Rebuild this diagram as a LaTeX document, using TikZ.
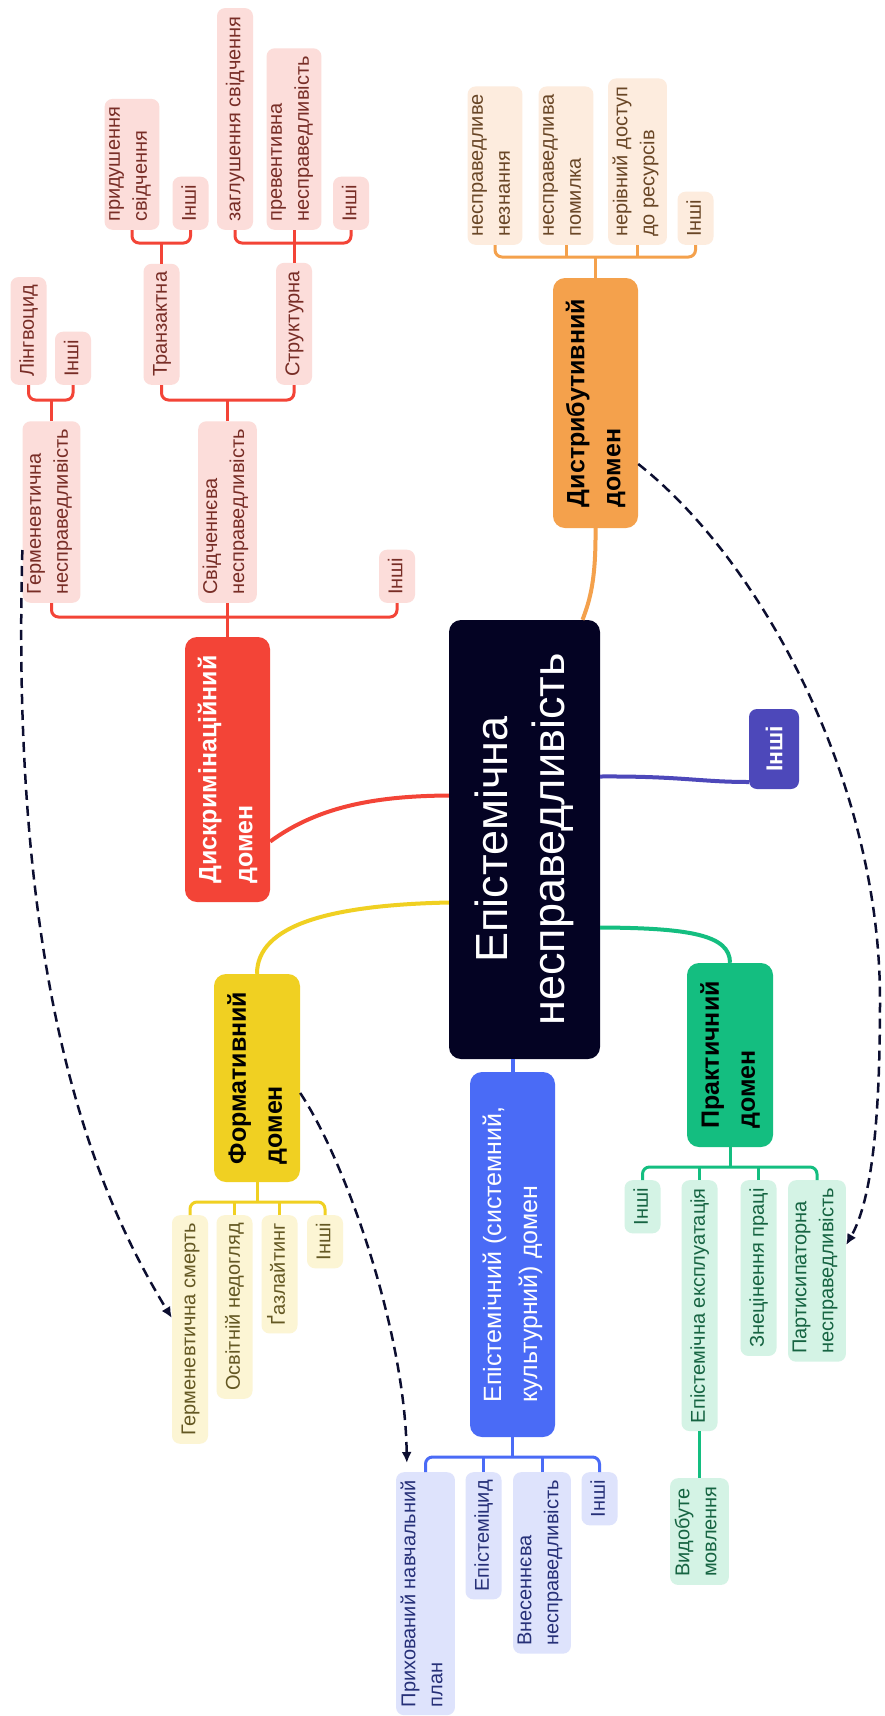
\documentclass[tikz,border=0pt]{standalone}
\usepackage{fontspec}
\setmainfont{Liberation Sans}
\usetikzlibrary{arrows.meta}

\definecolor{centrebg}{RGB}{4,3,35}
\definecolor{redmain}{RGB}{243,68,55}
\definecolor{redleaf}{RGB}{252,221,218}
\definecolor{redtext}{RGB}{120,45,38}
\definecolor{orangemain}{RGB}{244,161,76}
\definecolor{orangeleaf}{RGB}{253,236,222}
\definecolor{orangetext}{RGB}{105,70,38}
\definecolor{yellowmain}{RGB}{240,208,34}
\definecolor{yellowleaf}{RGB}{252,245,212}
\definecolor{yellowtext}{RGB}{100,88,35}
\definecolor{bluemain}{RGB}{74,107,246}
\definecolor{blueleaf}{RGB}{222,227,252}
\definecolor{bluetext}{RGB}{38,48,120}
\definecolor{greenmain}{RGB}{20,190,128}
\definecolor{greenleaf}{RGB}{212,243,229}
\definecolor{greentext}{RGB}{22,100,66}
\definecolor{purplemain}{RGB}{77,72,186}
\definecolor{dashcol}{RGB}{12,14,48}

\tikzset{
  leafbox/.style={rotate=90, rounded corners=8pt, inner xsep=8pt, inner ysep=4.5pt, align=left,
    font=\fontsize{20}{27}\selectfont, execute at begin node=\strut, execute at end node=\strut},
  domainbox/.style={rotate=90, rounded corners=12pt, inner sep=0pt, align=left,
    font=\fontsize{25}{36}\selectfont\bfseries},
}

\newcommand{\drawcentre}{\node[rotate=90, fill=centrebg, text=white, rounded corners=12pt, align=center, font=\fontsize{45}{57}\selectfont, minimum width=439pt, minimum height=151pt]}
\newcommand{\drawdomain}{\node[domainbox]}
\newcommand{\drawleafred}{\node[leafbox, fill=redleaf, text=redtext]}
\newcommand{\drawleaforange}{\node[leafbox, fill=orangeleaf, text=orangetext]}
\newcommand{\drawleafyellow}{\node[leafbox, fill=yellowleaf, text=yellowtext]}
\newcommand{\drawleafblue}{\node[leafbox, fill=blueleaf, text=bluetext]}
\newcommand{\drawleafgreen}{\node[leafbox, fill=greenleaf, text=greentext]}
\newcommand{\drawdummy}{\coordinate}
\newcommand{\linered}{\draw[line width=3pt, redmain, rounded corners=7pt]}
\newcommand{\lineorange}{\draw[line width=3pt, orangemain, rounded corners=7pt]}
\newcommand{\lineyellow}{\draw[line width=3pt, yellowmain, rounded corners=7pt]}
\newcommand{\lineblue}{\draw[line width=3pt, bluemain, rounded corners=7pt]}
\newcommand{\linegreen}{\draw[line width=3pt, greenmain, rounded corners=7pt]}
\newcommand{\curvecol}{\draw[line width=4pt]}
\newcommand{\arrdash}{\draw[line width=2.5pt, dashcol, dash pattern=on 10pt off 6pt, -{Latex[length=11pt,width=10pt]}]}

\begin{document}
\begin{tikzpicture}[x=1pt, y=-1pt]
\fill[white] (0,0) rectangle (884,1716);
\useasboundingbox (0,0) rectangle (884,1716);

%centre and domains
\drawcentre (centre) at (524.5,839.5) {Епістемічна\\несправедливість};
\drawdomain (disc) at (227.5,769.5) [fill=redmain, text=white, minimum width=265pt, minimum height=85pt] {Дискримінаційний\\домен};
\drawdomain (dist) at (595.5,403) [fill=orangemain, text=black, minimum width=250pt, minimum height=85pt] {Дистрибутивний\\домен};
\drawdomain (form) at (257,1078) [fill=yellowmain, text=black, minimum width=208pt, minimum height=86pt] {Формативний\\домен};
\drawdomain (episd) at (512.5,1254.5) [fill=bluemain, text=white, font=\fontsize{25}{36}\selectfont, minimum width=365pt, minimum height=85pt] {Епістемічний (системний,\\культурний) домен};
\drawdomain (prac) at (730,1055) [fill=greenmain, text=black, minimum width=184pt, minimum height=86pt] {Практичний\\домен};
\drawdomain (other) at (774,749) [fill=purplemain, text=white, font=\fontsize{23}{30}\selectfont\bfseries, rounded corners=8pt, minimum width=80pt, minimum height=50pt] {Інші};

%discrimination branch
\drawleafred (herm) at (51.5,603) [anchor=west] {Герменевтична\\несправедливість};
\drawleafred (svid) at (227.5,603) [anchor=west] {Свідченнєва\\несправедливість};
\drawleafred (othd) at (397,603) [anchor=west] {Інші};
\drawleafred (ling) at (28.5,385) [anchor=west] {Лінгвоцид};
\drawleafred (othh) at (73,385) [anchor=west] {Інші};
\drawleafred (trans) at (161.5,385) [anchor=west] {Транзактна};
\drawleafred (struc) at (294,385) [anchor=west] {Структурна};
\drawleafred (prid) at (132,230) [anchor=west] {придушення\\свідчення};
\drawleafred (otht) at (190.5,230) [anchor=west] {Інші};
\drawleafred (zagl) at (235,230) [anchor=west] {заглушення свідчення};
\drawleafred (prev) at (294,230) [anchor=west] {превентивна\\несправедливість};
\drawleafred (oths) at (351,230) [anchor=west] {Інші};

\drawdummy (discJ) at (227.5,617);
\drawdummy (hermJ) at (51.5,400);
\drawdummy (svidJ) at (227.5,400);
\drawdummy (transJ) at (161.5,243);
\drawdummy (strucJ) at (294,243);
\linered (herm.west) |- (discJ) -| (othd.west);
\linered (disc.east) -- (svid.west);
\linered (ling.west) |- (hermJ) -| (othh.west);
\linered (herm.east) -- (hermJ);
\linered (trans.west) |- (svidJ) -| (struc.west);
\linered (svid.east) -- (svidJ);
\linered (prid.west) |- (transJ) -| (otht.west);
\linered (trans.east) -- (transJ);
\linered (zagl.west) |- (strucJ) -| (oths.west);
\linered (struc.east) -- (prev.west);

%distributive branch
\drawleaforange (nezn) at (495,245) [anchor=west] {несправедливе\\незнання};
\drawleaforange (pomy) at (566,245) [anchor=west] {несправедлива\\помилка};
\drawleaforange (nerivn) at (637.5,245) [anchor=west] {нерівний доступ\\до ресурсів};
\drawleaforange (othdist) at (695.5,245) [anchor=west] {Інші};
\drawdummy (distJ) at (595.5,257);
\lineorange (nezn.west) |- (distJ) -| (othdist.west);
\lineorange (dist.east) -- (distJ);
\lineorange (pomy.west) -- (pomy.west |- distJ);
\lineorange (nerivn.west) -- (nerivn.west |- distJ);

%formative branch
\drawleafyellow (hsm) at (190,1215) [anchor=east] {Герменевтична смерть};
\drawleafyellow (osv) at (234.5,1215) [anchor=east] {Освітній недогляд};
\drawleafyellow (gaz) at (279.5,1215) [anchor=east] {Ґазлайтинг};
\drawleafyellow (othf) at (325,1215) [anchor=east] {Інші};
\drawdummy (formJ) at (257,1202);
\lineyellow (hsm.east) |- (formJ) -| (othf.east);
\lineyellow (form.west) -- (formJ);
\lineyellow (osv.east) -- (osv.east |- formJ);
\lineyellow (gaz.east) -- (gaz.east |- formJ);

%epistemic branch
\drawleafblue (prykh) at (425.5,1472) [anchor=east] {Прихований навчальний\\план};
\drawleafblue (epid) at (483.5,1472) [anchor=east] {Епістеміцид};
\drawleafblue (vnes) at (542,1472) [anchor=east] {Внесеннєва\\несправедливість};
\drawleafblue (othe) at (599.5,1472) [anchor=east] {Інші};
\drawdummy (episJ) at (512.5,1457);
\lineblue (prykh.east) |- (episJ) -| (othe.east);
\lineblue (episd.west) -- (episJ);
\lineblue (epid.east) -- (epid.east |- episJ);
\lineblue (vnes.east) -- (vnes.east |- episJ);

%practical branch
\drawleafgreen (othp) at (642.5,1180) [anchor=east] {Інші};
\drawleafgreen (ekspl) at (699.5,1180) [anchor=east] {Епістемічна експлуатація};
\drawleafgreen (znets) at (758.5,1180) [anchor=east] {Знецінення праці};
\drawleafgreen (part) at (817,1180) [anchor=east] {Партисипаторна\\несправедливість};
\drawleafgreen (vyd) at (699.5,1478) [anchor=east] {Видобуте\\мовлення};
\drawdummy (pracJ) at (730,1167);
\linegreen (othp.east) |- (pracJ) -| (part.east);
\linegreen (prac.west) -- (pracJ);
\linegreen (ekspl.east) -- (ekspl.east |- pracJ);
\linegreen (znets.east) -- (znets.east |- pracJ);
\linegreen (ekspl.west) -- (vyd.east);

%centre to domains
\curvecol[redmain] ([yshift=-72pt]disc.south) .. controls (320,805) and (380,796) .. ([yshift=44pt]centre.north);
\curvecol[yellowmain] ([yshift=-63pt]centre.north) .. controls (330,905) and (257,925) .. (form.east);
\curvecol[greenmain] ([yshift=-88pt]centre.south) .. controls (690,928) and (730,935) .. (prac.east);
\curvecol[purplemain] ([yshift=63pt]centre.south) .. controls (680,776) and (700,782) .. ([yshift=-33pt]other.north);
\curvecol[orangemain] (dist.west) .. controls (596,580) and (590,600) .. ([xshift=58pt]centre.east);
\curvecol[bluemain] (episd.east |- centre.west) -- (episd.east);

%cross links
\arrdash ([yshift=53pt]herm.north west) .. controls (10,1000) and (100,1200) .. ([yshift=-103pt]hsm.north east);
\arrdash ([yshift=-15pt]form.south) .. controls (345,1160) and (405,1330) .. ([xshift=11pt,yshift=9pt]prykh.north east);
\arrdash ([yshift=-61pt]dist.south) .. controls (760,560) and (880,780) .. (880,1000) .. controls (880,1120) and (872,1200) .. ([yshift=-65pt]part.south east);
\end{tikzpicture}
\end{document}
